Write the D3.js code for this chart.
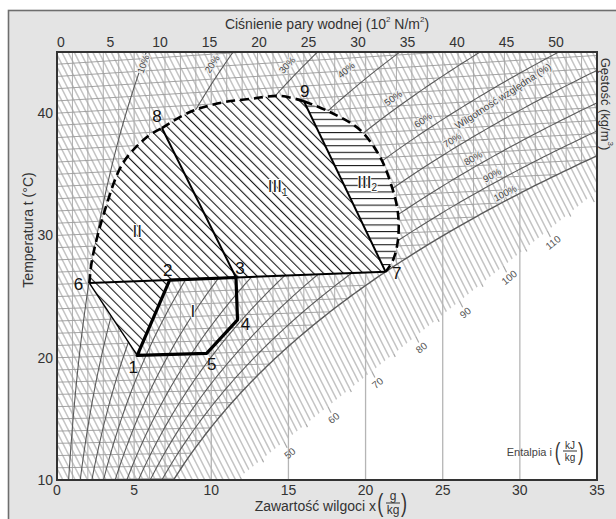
<!DOCTYPE html>
<html><head><meta charset="utf-8">
<script src="https://cdn.jsdelivr.net/npm/d3@7/dist/d3.min.js"></script>
<style>html,body{margin:0;padding:0;background:#fff;}svg{display:block;font-family:"Liberation Sans",Arial,sans-serif;}</style>
</head><body><svg id="c" width="616" height="519"></svg>
<script>
// ---------------- data ----------------
const moistureTicks = [0,5,10,15,20,25,30,35];          // x, g/kg
const temperatureTicks = [10,20,30,40];                 // t, °C
const pressureTicks = [0,5,10,15,20,25,30,35,40,45,50]; // 10^2 N/m2
const rhLevels = [10,20,30,40,50,60,70,80,90,100];      // %
const enthalpyLabels = [50,60,70,80,90,100,110];        // kJ/kg
// state points [x g/kg, t °C]
const pointIds = ["1","2","3","4","5","6","7","8","9"];
const pointX   = [5.2, 7.3, 11.6, 11.7, 9.7, 2.1, 21.3, 6.8, 16.0];
const pointT   = [20, 26, 26, 22.6, 20, 26, 26, 38.3, 39.8];
// dashed boundary 6 -> 8 -> 9 -> 7  [x, t]
const boundary = [[2.1,26],[2.27,27.87],[3.11,31.9],[4.28,35.64],[5.83,37.64],[6.8,38.3],
  [8.62,39.46],[10.56,40.05],[12.51,40.23],[14.45,40.33],[16.0,39.8],
  [17.69,38.82],[19.64,37.27],[20.94,35.05],[21.71,32.65],[22.1,30.58],[22.1,28.47],[21.78,26.9],[21.3,26]];
const zoneNames = ["I","II","III","III"];
const zoneSubs  = ["","","1","2"];
const zoneX     = [8.8, 5.2, 14.3, 20.1];
const zoneT     = [23.4, 30.0, 33.1, 33.1];

// ---------------- scales ----------------
const svg = d3.select("#c");
const X0=57, X1=597, Y0=480, Y1=52;
const x = d3.scaleLinear().domain([0,35]).range([X0,X1]);
const y = d3.scaleLinear().domain([10,45]).range([Y0,Y1]);
const pScale = d3.scaleLinear().domain([0,50]).range([61,556]);

// Mollier helpers
const P0 = 1013;
const ps = t => 6.112*Math.exp(17.62*t/(243.12+t));
const xOf = (t,phi) => 622*phi*ps(t)/(P0-phi*ps(t));
const yEq = (xv,t) => t*(1+0.00185*xv);
const PX = d => x(d[0]);
const PY = d => y(yEq(d[0],d[1]));
const lineXT = d3.line().x(PX).y(PY);
const lineXY = d3.line().x(d=>x(d[0])).y(d=>y(d[1]));

// ---------------- frame ----------------
svg.append("rect").attr("x",8.5).attr("y",10.5).attr("width",700).attr("height",600)
  .attr("fill","#e4e4e4").attr("stroke","#6e6e6e").attr("stroke-width",1.6);
svg.append("rect").attr("x",X0).attr("y",Y1).attr("width",X1-X0).attr("height",Y0-Y1).attr("fill","#fff");

const defs = svg.append("defs");
defs.append("clipPath").attr("id","plotClip").append("rect")
  .attr("x",X0).attr("y",Y1).attr("width",X1-X0).attr("height",Y0-Y1);
const satPts = d3.range(50,5.9,-0.25).map(t=>{const xv=xOf(t,1);return [x(xv),y(yEq(xv,t))];});
const unsatPoly = [[0,-600],[3000,-600]].concat(satPts).concat([[0,800]]);
defs.append("clipPath").attr("id","unsatClip").append("polygon").attr("points",unsatPoly.map(p=>p.join(",")).join(" "));
// enthalpy scale line (x, yEq units)
const SA=[11.6,10], SB=[35,33.63];
const A=[x(SA[0]),y(SA[1])], B=[x(SB[0]),y(SB[1])], dd=[B[0]-A[0],B[1]-A[1]];
const abovePoly=[[A[0]-6*dd[0],A[1]-6*dd[1]],[B[0]+6*dd[0],B[1]+6*dd[1]],[-4000,-4000]];
defs.append("clipPath").attr("id","aboveClip").append("polygon").attr("points",abovePoly.map(p=>p.join(",")).join(" "));

function hatch(id,angle,gap,w){
  const p=defs.append("pattern").attr("id",id).attr("patternUnits","userSpaceOnUse")
   .attr("width",gap).attr("height",gap).attr("patternTransform",`rotate(${angle})`);
  p.append("rect").attr("width",gap).attr("height",gap).attr("fill","#fff");
  p.append("line").attr("x1",0).attr("y1",-1).attr("x2",0).attr("y2",gap+1).attr("stroke","#1a1a1a").attr("stroke-width",w);
}
hatch("hII",-45,7,2.2);
hatch("hIII1",-45,7,2.2);
hatch("hIII2",90,6.6,2.2);

const plot = svg.append("g").attr("clip-path","url(#plotClip)");

// enthalpy lines
const gE = plot.append("g").attr("clip-path","url(#aboveClip)");
d3.range(4,142,1).forEach(i=>{
  gE.append("path").attr("d",lineXY([[-2,(i+5.002)/1.005],[40,(i-100.04)/1.005]]))
   .attr("fill","none").attr("stroke","#c4c4c4").attr("stroke-width",1.5);
});
// grid in unsaturated region
const gU = plot.append("g").attr("clip-path","url(#unsatClip)");
d3.range(5,46,1).forEach(t=>{
  gU.append("path").attr("d",lineXT([[0,t],[40,t]])).attr("fill","none").attr("stroke","#9a9a9a").attr("stroke-width",0.9);
});
d3.range(1,35,1).filter(v=>v%5!==0).forEach(v=>{
  gU.append("line").attr("x1",x(v)).attr("x2",x(v)).attr("y1",Y1).attr("y2",Y0).attr("stroke","#a4a4a4").attr("stroke-width",0.9);
});
moistureTicks.slice(1,-1).forEach(v=>{
  plot.append("line").attr("x1",x(v)).attr("x2",x(v)).attr("y1",Y1).attr("y2",Y0).attr("stroke","#b5b5b5").attr("stroke-width",1.3);
});
// relative humidity curves
const rhCurves = rhLevels.map(r=>d3.range(0,50.01,0.2).map(t=>[xOf(t,r/100),t]));
rhCurves.forEach((c,k)=>{
  plot.append("path").attr("d",lineXT(c)).attr("fill","none").attr("stroke","#5a5a5a").attr("stroke-width",rhLevels[k]===100?1.4:1.1);
});
// enthalpy scale ticks + labels
const ex = x(1)-x(0), ey = y(0)-y(2.501/1.005), el = Math.hypot(ex,ey);
const dirE = [ex/el, ey/el];
const slopeS = (SB[1]-SA[1])/(SB[0]-SA[0]);
function scaleHit(i){
  const xv = (i/1.005 - SA[1] + slopeS*SA[0])/(slopeS + 2.501/1.005);
  return [x(xv), y(SA[1]+slopeS*(xv-SA[0]))];
}
d3.range(40,121,5).forEach(i=>{
  const h=scaleHit(i), L=(i%10===0)?7:3.5;
  plot.append("line").attr("x1",h[0]).attr("y1",h[1]).attr("x2",h[0]+dirE[0]*L).attr("y2",h[1]+dirE[1]*L)
    .attr("stroke","#a8a8a8").attr("stroke-width",1.2);
});
const angS = Math.atan2(B[1]-A[1],B[0]-A[0])*180/Math.PI;
enthalpyLabels.forEach(i=>{
  const h=scaleHit(i), cx=h[0]+dirE[0]*13, cy=h[1]+dirE[1]*13;
  plot.append("text").attr("transform",`translate(${cx},${cy}) rotate(${angS})`)
    .attr("text-anchor","middle").attr("dominant-baseline","central")
    .attr("font-size",10).attr("fill","#555").text(i);
});
// RH labels placed at the reference label spots, turned along their curve
const rhLabelPos = [[143,64],[212,64],[287,65],[346,70],[393,98],[423,120],[452,140],[473,158],[492,175],[505,193]];
rhCurves.forEach((c,k)=>{
  const pts=c.map(d=>[PX(d),PY(d)]), tp=rhLabelPos[k];
  let bi=1,bd=1e9; pts.forEach((p,j)=>{if(j>0&&j<pts.length-1){const dv=Math.hypot(p[0]-tp[0],p[1]-tp[1]); if(dv<bd){bd=dv;bi=j;}}});
  const a=pts[bi-1], b=pts[bi+1];
  const ang=Math.atan2(b[1]-a[1],b[0]-a[0])*180/Math.PI;
  plot.append("text").attr("transform",`translate(${tp[0]},${tp[1]}) rotate(${ang})`)
    .attr("text-anchor","middle").attr("dominant-baseline","central").attr("font-size",9.5)
    .attr("fill","#444").attr("stroke","#eeeeee").attr("stroke-width",2.5).attr("paint-order","stroke")
    .text(rhLevels[k]+"%");
});
svg.append("text").attr("transform","translate(503,96) rotate(-33)").attr("text-anchor","middle")
  .attr("dominant-baseline","central").attr("font-size",10).attr("fill","#444")
  .attr("stroke","#eeeeee").attr("stroke-width",2.5).attr("paint-order","stroke").text("Wilgotność względna (%)");

// ---------------- zones ----------------
const P = {}; pointIds.forEach((id,k)=>P[id]=[pointX[k],pointT[k]]);
const pp = id => [PX(P[id]),PY(P[id])];
const curve = d3.line().x(PX).y(PY).curve(d3.curveCatmullRom.alpha(0.5));
const segA = boundary.slice(0,6), segB = boundary.slice(5,11), segC = boundary.slice(10);
const Lp = id => "L"+pp(id).join(",");
const zones = svg.append("g");
zones.append("path").attr("d",curve(segA)+Lp("3")+"Z").attr("fill","url(#hII)");
zones.append("path").attr("d","M"+pp("6").join(",")+Lp("2")+Lp("1")+"Z").attr("fill","url(#hII)");
zones.append("path").attr("d",curve(segB)+Lp("7")+Lp("3")+"Z").attr("fill","url(#hIII1)");
zones.append("path").attr("d",curve(segC)+"Z").attr("fill","url(#hIII2)");

const lines = svg.append("g").attr("fill","none").attr("stroke","#000").attr("stroke-linejoin","round");
[segA,segB,segC].forEach(s=>lines.append("path").attr("d",curve(s)).attr("stroke-width",2.6).attr("stroke-dasharray","9,5"));
lines.append("path").attr("d","M"+pp("6")+Lp("7")).attr("stroke-width",2);
lines.append("path").attr("d","M"+pp("8")+Lp("3")).attr("stroke-width",2);
lines.append("path").attr("d","M"+pp("9")+Lp("7")).attr("stroke-width",2);
lines.append("path").attr("d","M"+pp("6")+Lp("1")).attr("stroke-width",1.4);
lines.append("path").attr("d","M"+pp("1")+Lp("2")+Lp("3")+Lp("4")+Lp("5")+"Z").attr("stroke-width",3.2);

const labelOffset = {"1":[-4,12],"2":[-2,-10],"3":[4,-9],"4":[8,5],"5":[5,11],"6":[-11,1],"7":[11,2],"8":[-5,-12],"9":[1,-10]};
pointIds.forEach(id=>{
  const p=pp(id), o=labelOffset[id];
  svg.append("text").attr("x",p[0]+o[0]).attr("y",p[1]+o[1]).attr("text-anchor","middle")
   .attr("dominant-baseline","central").attr("font-size",17).attr("fill","#111").text(id);
});
zoneNames.forEach((n,k)=>{
  const t=svg.append("text").attr("x",x(zoneX[k])).attr("y",y(yEq(zoneX[k],zoneT[k]))).attr("text-anchor","middle")
   .attr("dominant-baseline","central").attr("font-size",17).attr("fill","#222")
   .attr("stroke","#fff").attr("stroke-width",2).attr("paint-order","stroke").text(n);
  if(zoneSubs[k]) t.append("tspan").attr("font-size",10).attr("dy",5).text(zoneSubs[k]);
});

// ---------------- axes ----------------
svg.append("rect").attr("x",X0).attr("y",Y1).attr("width",X1-X0).attr("height",Y0-Y1)
  .attr("fill","none").attr("stroke","#333").attr("stroke-width",2);
const txt = (g)=>g.attr("font-size",14).attr("fill","#333");
moistureTicks.forEach(v=>txt(svg.append("text")).attr("x",x(v)).attr("y",490).attr("text-anchor","middle").attr("dominant-baseline","central").text(v));
temperatureTicks.forEach(v=>txt(svg.append("text")).attr("x",X0-4).attr("y",y(v)).attr("text-anchor","end").attr("dominant-baseline","central").text(v));
pressureTicks.forEach(v=>txt(svg.append("text")).attr("x",pScale(v)).attr("y",42).attr("text-anchor","middle").attr("dominant-baseline","central").text(v));

const t1 = txt(svg.append("text")).attr("x",327).attr("y",24).attr("text-anchor","middle").attr("dominant-baseline","central");
t1.append("tspan").text("Ciśnienie pary wodnej (10");
t1.append("tspan").attr("font-size",8).attr("dy",-5).text("2");
t1.append("tspan").attr("dy",5).text(" N/m");
t1.append("tspan").attr("font-size",8).attr("dy",-5).text("2");
t1.append("tspan").attr("dy",5).text(")");
txt(svg.append("text")).attr("transform","translate(28,230) rotate(-90)").attr("text-anchor","middle")
  .attr("dominant-baseline","central").text("Temperatura t (°C)");
const tr = txt(svg.append("text")).attr("transform","translate(606,104) rotate(90)").attr("text-anchor","middle")
  .attr("dominant-baseline","central").attr("font-size",13);
tr.append("tspan").text("Gęstość (kg/m");
tr.append("tspan").attr("font-size",8).attr("dy",-5).text("3");
tr.append("tspan").attr("dy",5).text(")");
txt(svg.append("text")).attr("x",376).attr("y",506).attr("text-anchor","end").attr("dominant-baseline","central").text("Zawartość wilgoci x");
function fraction(cx,cy,num,den,fs,pf){
  svg.append("text").attr("x",cx-1).attr("y",cy).attr("text-anchor","end").attr("dominant-baseline","central")
    .attr("font-size",pf).attr("fill","#333").attr("transform",`translate(${cx},${cy}) scale(0.7,1) translate(${-cx},${-cy})`).text("(");
  svg.append("text").attr("x",cx+9).attr("y",cy-fs*0.6).attr("text-anchor","middle").attr("dominant-baseline","central").attr("font-size",fs).attr("fill","#333").text(num);
  svg.append("line").attr("x1",cx+2).attr("x2",cx+16).attr("y1",cy).attr("y2",cy).attr("stroke","#333").attr("stroke-width",1);
  svg.append("text").attr("x",cx+9).attr("y",cy+fs*0.6).attr("text-anchor","middle").attr("dominant-baseline","central").attr("font-size",fs).attr("fill","#333").text(den);
  svg.append("text").attr("x",cx+17).attr("y",cy).attr("text-anchor","start").attr("dominant-baseline","central")
    .attr("font-size",pf).attr("fill","#333").attr("transform",`translate(${cx+17},${cy}) scale(0.7,1) translate(${-cx-17},${-cy})`).text(")");
}
fraction(384,503,"g","kg",12,26);
svg.append("text").attr("x",552).attr("y",452).attr("text-anchor","end").attr("dominant-baseline","central").attr("font-size",11).attr("fill","#444").text("Entalpia i");
fraction(561,451,"kJ","kg",10,24);
</script></body></html>
